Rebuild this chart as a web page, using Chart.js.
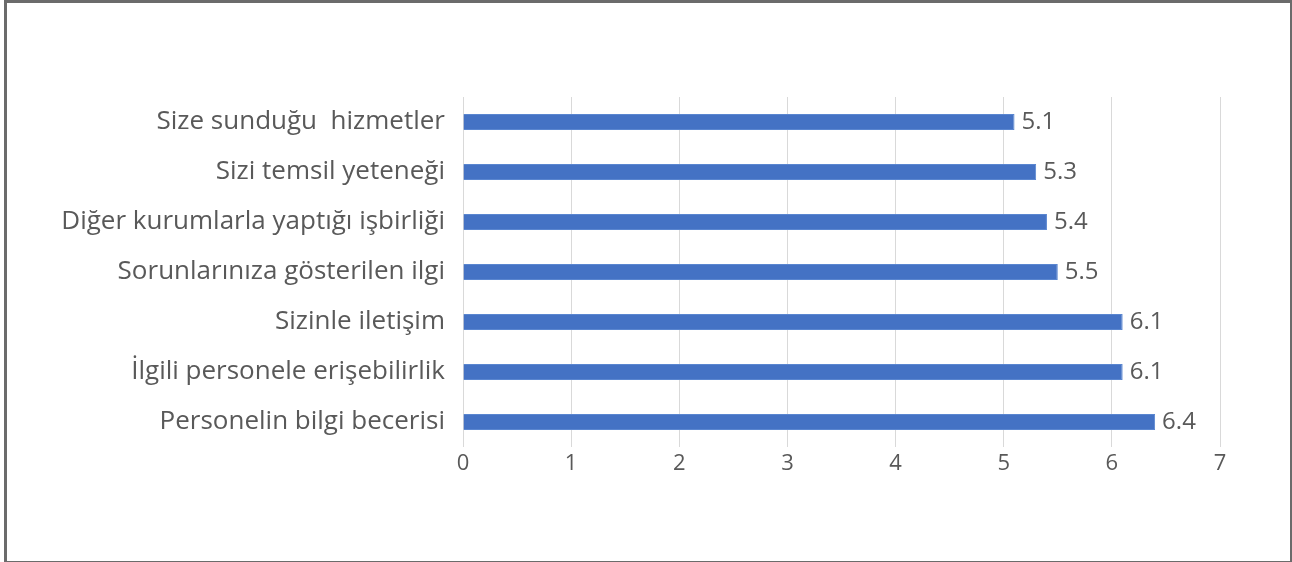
<!DOCTYPE html>
<html>
<head>
<meta charset="utf-8">
<script src="https://cdn.jsdelivr.net/npm/chart.js@4"></script>
<style>
  html, body { margin: 0; padding: 0; background: #fff; }
  .frame {
    position: absolute; left: 4px; top: 0; width: 1283px; height: 558px;
    border: 3px solid #6b6b6b; box-sizing: content-box;
  }
  #wrap { position: absolute; left: 0; top: 0; width: 1292px; height: 562px; }
</style>
</head>
<body>
<div class="frame"></div>
<div id="wrap"><canvas id="chart" width="1292" height="562"></canvas></div>
<script>
// Survey scores //

const categories = [
  "Size sunduğu  hizmetler",
  "Sizi temsil yeteneği",
  "Diğer kurumlarla yaptığı işbirliği",
  "Sorunlarınıza gösterilen ilgi",
  "Sizinle iletişim",
  "İlgili personele erişebilirlik",
  "Personelin bilgi becerisi"
];
const scores = [5.1, 5.3, 5.4, 5.5, 6.1, 6.1, 6.4];
const xTicks = [0, 1, 2, 3, 4, 5, 6, 7];

const textColor = '#595959';
const fontFamily = '"Open Sans", "Noto Sans", sans-serif';

// draws the value at the end of each bar
const valueLabels = {
  id: 'valueLabels',
  afterDatasetsDraw(chart) {
    const ctx = chart.ctx;
    const meta = chart.getDatasetMeta(0);
    ctx.save();
    ctx.font = '24px ' + fontFamily;
    ctx.fillStyle = textColor;
    ctx.textAlign = 'left';
    ctx.textBaseline = 'middle';
    meta.data.forEach((bar, i) => {
      ctx.fillText(scores[i].toFixed(1), bar.x + 7, bar.y);
    });
    ctx.restore();
  }
};

const chartCanvas = document.querySelector('#chart');

let scoreChart = new Chart(chartCanvas, {
  type: 'bar',
  data: {
    labels: categories,
    datasets: [{
      data: scores,
      backgroundColor: '#4472C4',
      borderColor: '#5a86d0',
      borderWidth: 1,
      barPercentage: 0.64,
      categoryPercentage: 0.5
    }]
  },
  options: {
    indexAxis: 'y',
    responsive: false,
    animation: false,
    layout: {
      padding: { left: 8, right: 72, top: 97, bottom: 75 }
    },
    scales: {
      x: {
        min: 0,
        max: 7,
        afterBuildTicks: (axis) => {
          axis.ticks = xTicks.map(v => ({ value: v }));
        },
        afterFit: (axis) => { axis.height = 40; },
        grid: {
          color: '#d9d9d9',
          lineWidth: 1,
          drawTicks: false
        },
        border: { display: false },
        ticks: {
          padding: 4,
          color: textColor,
          font: { family: fontFamily, size: 22 }
        }
      },
      y: {
        afterFit: (axis) => { axis.width = 455; },
        grid: { display: false, drawTicks: false },
        border: { display: false },
        ticks: {
          padding: 18,
          color: textColor,
          font: { family: fontFamily, size: 26 }
        }
      }
    },
    plugins: {
      legend: { display: false },
      tooltip: { enabled: false }
    }
  },
  plugins: [valueLabels]
});
</script>
</body>
</html>
